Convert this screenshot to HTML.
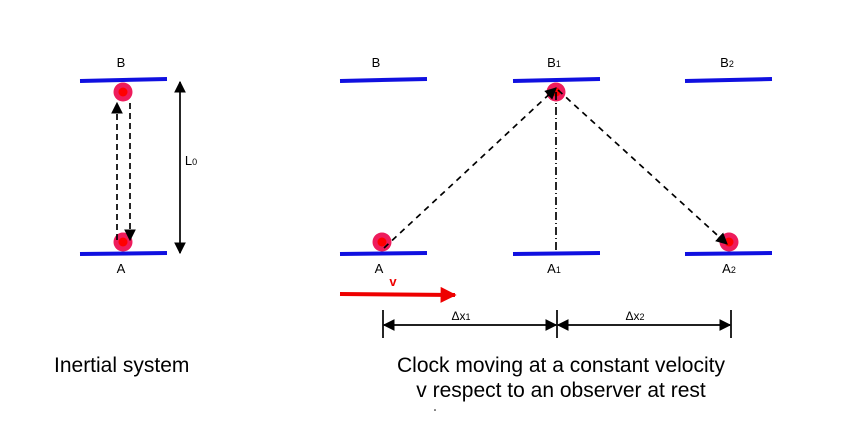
<!DOCTYPE html>
<html><head><style>
html,body{margin:0;padding:0;background:#fff;width:850px;height:443px;overflow:hidden}
text{font-family:"Liberation Sans",sans-serif}
</style></head><body>
<svg width="850" height="443" viewBox="0 0 850 443" xmlns="http://www.w3.org/2000/svg">
<defs>
<marker id="ah" viewBox="0 0 10 10" refX="9" refY="5" markerWidth="7" markerHeight="7" orient="auto-start-reverse"><path d="M0,0L10,5L0,10z" fill="#000"/></marker>
<marker id="ahr" viewBox="0 0 10 10" refX="9" refY="5" markerWidth="4.5" markerHeight="4" orient="auto"><path d="M0,0L10,5L0,10z" fill="#e00"/></marker>
</defs>
<g stroke="#1010e0" stroke-width="4">
<line x1="80" y1="81" x2="167" y2="79"/><line x1="80" y1="254" x2="167" y2="253"/>
<line x1="340" y1="81" x2="427" y2="79"/><line x1="340" y1="254" x2="427" y2="253"/>
<line x1="513" y1="81" x2="600" y2="79"/><line x1="513" y1="254" x2="600" y2="253"/>
<line x1="685" y1="81" x2="772" y2="79"/><line x1="685" y1="254" x2="772" y2="253"/>
</g>
<g fill="#ee1c5c">
<circle cx="123" cy="92" r="9.5"/><circle cx="123" cy="242" r="9.5"/>
<circle cx="382" cy="242" r="9.5"/><circle cx="556" cy="92" r="9.5"/><circle cx="729" cy="242" r="9.5"/>
</g>
<g fill="#f00">
<circle cx="123" cy="92" r="4.5"/><circle cx="123" cy="242" r="4.5"/>
<circle cx="382" cy="242" r="4.5"/><circle cx="556" cy="92" r="4.5"/><circle cx="729" cy="242" r="4.5"/>
</g>
<g stroke="#000" stroke-width="1.7" fill="none">
<line x1="117" y1="240" x2="117" y2="103" stroke-dasharray="6,4" marker-end="url(#ah)"/>
<line x1="130" y1="103" x2="130" y2="240" stroke-dasharray="6,4" marker-end="url(#ah)"/>
<line x1="180" y1="82" x2="180" y2="253" marker-start="url(#ah)" marker-end="url(#ah)"/>
<line x1="384" y1="248" x2="556" y2="88" stroke-dasharray="6,5" marker-end="url(#ah)"/>
<line x1="558" y1="90" x2="727" y2="244" stroke-dasharray="6,5" marker-end="url(#ah)"/>
<line x1="556" y1="92" x2="556" y2="252" stroke-dasharray="8,3,1,3"/>
<line x1="383" y1="310" x2="383" y2="338"/><line x1="557" y1="310" x2="557" y2="338"/><line x1="731" y1="310" x2="731" y2="338"/>
<line x1="384" y1="325" x2="556" y2="325" marker-start="url(#ah)" marker-end="url(#ah)"/>
<line x1="558" y1="325" x2="730" y2="325" marker-start="url(#ah)" marker-end="url(#ah)"/>
</g>
<line x1="340" y1="294" x2="455" y2="295" stroke="#e00" stroke-width="4" marker-end="url(#ahr)"/>
<g font-size="13" fill="#000" text-anchor="middle">
<text x="121" y="67">B</text><text x="121" y="273">A</text>
<text x="376" y="67">B</text><text x="379" y="273">A</text>
<text x="554" y="67">B<tspan font-size="9">1</tspan></text>
<text x="727" y="67">B<tspan font-size="9">2</tspan></text>
<text x="554" y="273">A<tspan font-size="9">1</tspan></text>
<text x="729" y="273">A<tspan font-size="9">2</tspan></text>
<text x="191" y="165">L<tspan font-size="9">0</tspan></text>
<text x="461" y="320" font-size="12">Δx<tspan font-size="9">1</tspan></text>
<text x="635" y="320" font-size="12">Δx<tspan font-size="9">2</tspan></text>
<text x="393" y="286" fill="#e00" font-weight="bold">v</text>
</g>
<text x="54" y="372" font-size="21">Inertial system</text>
<text x="561" y="372" font-size="21" text-anchor="middle">Clock moving at a constant velocity</text>
<text x="561" y="397" font-size="21" text-anchor="middle">v respect to an observer at rest</text>
<circle cx="435" cy="410" r="0.8" fill="#000"/>
</svg>
</body></html>
